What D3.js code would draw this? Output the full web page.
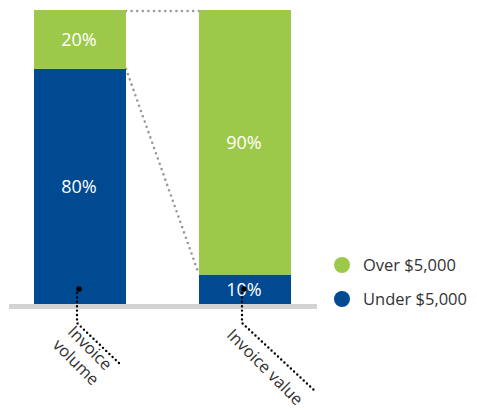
<!DOCTYPE html>
<html><head><meta charset="utf-8">
<script src="https://cdn.jsdelivr.net/npm/d3@7"></script>
<style>body{margin:0;background:#fff}svg{display:block}text{font-family:"Open Sans","Noto Sans",sans-serif}</style>
</head><body>
<script>
const categories = ["Invoice volume", "Invoice value"];
const categoryLines = [["Invoice", "volume"], ["Invoice value"]];
const seriesNames = ["Under $5,000", "Over $5,000"];
const under = [80, 10];
const over = [20, 90];
const colors = ["#004a92", "#9dc94a"];

const W = 477, H = 410;
const svg = d3.select("body").append("svg").attr("width", W).attr("height", H);

const x = d3.scaleBand().domain(categories).range([34, 291]).paddingInner(0.4424).paddingOuter(0);
const y = d3.scaleLinear().domain([0, 100]).range([304, 10]);

const stacked = d3.stack().keys([0, 1]).value((d, k) => d[k])(categories.map((c, i) => [under[i], over[i]]));

// connectors
const bw = x.bandwidth();
const c0 = x(categories[0]) + bw, c1 = x(categories[1]);
svg.append("line").attr("x1", c0).attr("x2", c1).attr("y1", y(100) + 1).attr("y2", y(100) + 1)
  .attr("stroke", "#999").attr("stroke-width", 2.6).attr("stroke-linecap", "round").attr("stroke-dasharray", "0 5.6");
svg.append("line").attr("x1", c0).attr("x2", c1).attr("y1", y(under[0])).attr("y2", y(under[1]))
  .attr("stroke", "#999").attr("stroke-width", 2.6).attr("stroke-linecap", "round").attr("stroke-dasharray", "0 5.6");

// bars
stacked.forEach((layer, li) => {
  svg.append("g").selectAll("rect").data(layer).join("rect")
    .attr("x", (d, i) => x(categories[i]))
    .attr("width", bw)
    .attr("y", d => y(d[1]))
    .attr("height", d => y(d[0]) - y(d[1]))
    .attr("fill", colors[li]);
  svg.append("g").selectAll("text").data(layer).join("text")
    .attr("x", (d, i) => x(categories[i]) + bw / 2 - 1)
    .attr("y", d => (y(d[0]) + y(d[1])) / 2)
    .attr("dy", "0.36em")
    .attr("text-anchor", "middle")
    .attr("fill", "#fff")
    .attr("font-size", 18)
    .text(d => (d[1] - d[0]) + "%");
});

// baseline
svg.append("rect").attr("x", 9).attr("width", 308).attr("y", y(0)).attr("height", 5).attr("fill", "#d3d3d3");

// leader lines and category labels
const leaderEnds = [[121, 365], [316, 392]];
const labelCenters = [[83, 355], [265, 367]];
categories.forEach((c, i) => {
  const cx = x(c) + bw / 2;
  const g = svg.append("g");
  g.append("path")
    .attr("d", `M${cx - 3},${y(0) - 11}L${cx - 3},${323}L${leaderEnds[i][0]},${leaderEnds[i][1]}`)
    .attr("fill", "none").attr("stroke", "#000").attr("stroke-width", 2.4)
    .attr("stroke-linecap", "round").attr("stroke-dasharray", "0 4.4");
  g.append("circle").attr("cx", cx - 1).attr("cy", 289).attr("r", 2.8).attr("fill", "#000");
  const t = svg.append("text")
    .attr("transform", `translate(${labelCenters[i][0]},${labelCenters[i][1]}) rotate(45)`)
    .attr("text-anchor", "middle").attr("fill", "#333").attr("font-size", 16.5);
  const lines = categoryLines[i];
  lines.forEach((ln, k) => {
    t.append("tspan").attr("x", 0).attr("y", (k - (lines.length - 1) / 2) * 20).attr("dy", "0.35em").text(ln);
  });
});

// legend
const legendItems = [[seriesNames[1], colors[1]], [seriesNames[0], colors[0]]];
const lg = svg.append("g").selectAll("g").data(legendItems).join("g")
  .attr("transform", (d, i) => `translate(342,${265 + i * 34})`);
lg.append("circle").attr("r", 8).attr("fill", d => d[1]);
lg.append("text").attr("x", 21).attr("dy", "0.36em").attr("fill", "#333").attr("font-size", 16.5).text(d => d[0]);
</script>
</body></html>
